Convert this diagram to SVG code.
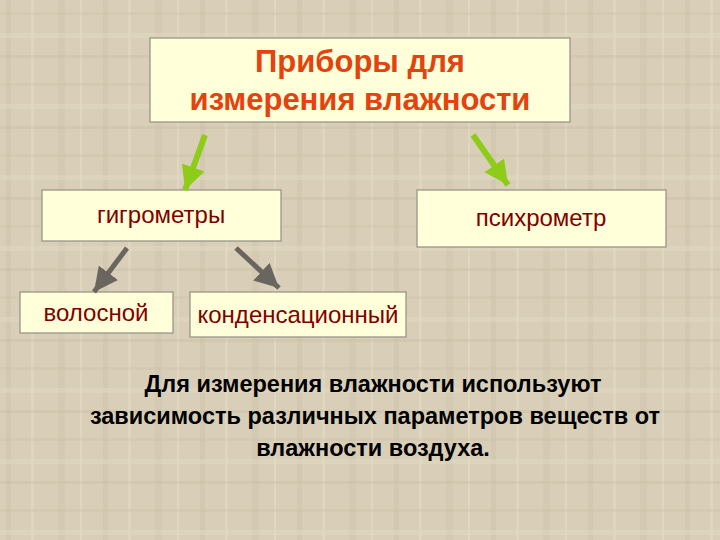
<svg xmlns="http://www.w3.org/2000/svg" width="720" height="540" viewBox="0 0 720 540">
<defs>
<pattern id="tex" width="97" height="71" patternUnits="userSpaceOnUse">
<rect width="97" height="71" fill="#d9cfb8"/>
<rect x="6" width="5" height="71" fill="#c8bca2" opacity="0.35"/>
<rect x="31" width="3" height="71" fill="#e6dec9" opacity="0.45"/>
<rect x="58" width="7" height="71" fill="#cabea3" opacity="0.3"/>
<rect x="80" width="2" height="71" fill="#ebe3cf" opacity="0.4"/>
<rect y="12" width="97" height="3" fill="#c9bea4" opacity="0.35"/>
<rect y="33" width="97" height="5" fill="#e4dbc6" opacity="0.4"/>
<rect y="55" width="97" height="3" fill="#c6baa0" opacity="0.3"/>
</pattern>
<marker id="hg" viewBox="0 0 10 10" refX="10" refY="5" markerWidth="24" markerHeight="24" markerUnits="userSpaceOnUse" orient="auto">
<path d="M0,0 L10,5 L0,10 z" fill="#8fcc1a"/>
</marker>
<marker id="hd" viewBox="0 0 10 10" refX="10" refY="5" markerWidth="24" markerHeight="24" markerUnits="userSpaceOnUse" orient="auto">
<path d="M0,0 L10,5 L0,10 z" fill="#6b6560"/>
</marker>
</defs>
<style>
.box{fill:#ffffd9;stroke:#9a968a;stroke-width:1.3}
.t{font-family:"Liberation Sans",Arial,sans-serif;fill:#800000;font-size:24px;text-anchor:middle}
.h{font-family:"Liberation Sans",Arial,sans-serif;fill:#e4420e;font-size:31px;font-weight:bold;text-anchor:middle}
.b{font-family:"Liberation Sans",Arial,sans-serif;fill:#000;font-size:23.5px;font-weight:bold;text-anchor:middle}
.ag{stroke:#8fcc1a;stroke-width:6;fill:none}
.ad{stroke:#6b6560;stroke-width:5;fill:none}
</style>
<rect width="720" height="540" fill="url(#tex)"/>
<g id="title">
<rect class="box" x="150" y="38" width="420" height="84"/>
<text class="h" x="360" y="72">Приборы для</text>
<text class="h" x="360" y="110">измерения влажности</text>
</g>
<g id="hygrometers">
<rect class="box" x="42" y="190" width="239" height="51"/>
<text class="t" x="161" y="223">гигрометры</text>
</g>
<g id="psychrometer">
<rect class="box" x="417" y="190" width="249" height="57"/>
<text class="t" x="541" y="226">психрометр</text>
</g>
<g id="hair">
<rect class="box" x="20" y="292" width="153" height="41"/>
<text class="t" x="96" y="321">волосной</text>
</g>
<g id="condensation">
<rect class="box" x="190" y="292" width="216" height="45"/>
<text class="t" x="298" y="323">конденсационный</text>
</g>
<g id="connectors">
<path class="ag" d="M205,135 L185,190" marker-end="url(#hg)"/>
<path class="ag" d="M473,135 L508,185" marker-end="url(#hg)"/>
<path class="ad" d="M127,248 L94,292" marker-end="url(#hd)"/>
<path class="ad" d="M236,248 L279,288" marker-end="url(#hd)"/>
</g>
<g id="note">
<text class="b" x="373" y="392">Для измерения влажности используют</text>
<text class="b" x="375" y="424">зависимость различных параметров веществ от</text>
<text class="b" x="373" y="456">влажности воздуха.</text>
</g>
</svg>
